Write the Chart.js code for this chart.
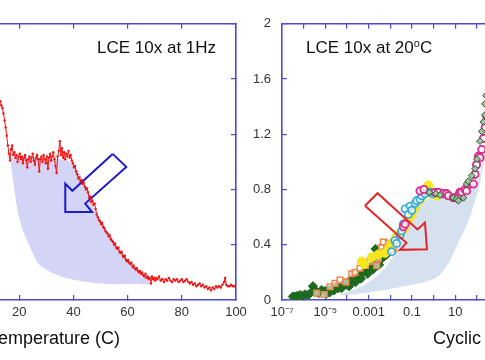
<!DOCTYPE html>
<html>
<head>
<meta charset="utf-8">
<script src="https://cdn.jsdelivr.net/npm/chart.js@4.4.1/dist/chart.umd.min.js"></script>
<style>
  html, body { margin: 0; padding: 0; background: #fff; }
  body { position: relative; width: 485px; height: 360px; overflow: hidden;
         font-family: "Liberation Sans", Arial, sans-serif; }
  canvas { position: absolute; top: 0; }
  #leftChart { left: -75px; }
  #rightChart { left: 242px; }
  .lbl { position: absolute; font-size: 17px; line-height: 17px; color: #111; white-space: nowrap; }
  .lbl.axis { font-size: 18px; line-height: 18px; }
  .lbl sup { font-size: 11px; vertical-align: 6px; line-height: 0; }
</style>
</head>
<body>
<canvas id="leftChart" width="333" height="360"></canvas>
<canvas id="rightChart" width="310" height="360"></canvas>
<div class="lbl" style="left:97px;top:39px">LCE 10x at 1Hz</div>
<div class="lbl" style="left:306px;top:39px">LCE 10x at 20<sup>o</sup>C</div>
<div class="lbl axis" style="left:-11px;top:329px">Temperature (C)</div>
<div class="lbl axis" style="left:433px;top:329px">Cyclic frequency (Hz)</div>
<script>
const AXIS_BLUE = '#4a4ad4';
const TICK_GREY = '#333';

// --- left panel: temperature sweep at 1 Hz ---
const tempC = [
  13.0, 13.4, 13.8, 14.2, 14.6, 15.0, 15.4, 15.8, 16.2, 16.6, 17.0, 17.4, 17.8,
  18.2, 18.6, 19.0, 19.4, 19.8, 20.2, 20.6, 21.0, 21.4, 21.8, 22.2, 22.6, 23.0, 23.4, 23.8, 24.2,
  24.6, 25.0, 25.4, 25.8, 26.2, 26.6, 27.0, 27.4, 27.8, 28.2, 28.6, 29.0, 29.4, 29.8, 30.2, 30.6,
  31.0, 31.4, 31.8, 32.2, 32.6, 33.0, 33.4, 33.8, 34.2, 34.6, 35.0, 35.4, 35.8, 36.2, 36.6, 37.0,
  37.4, 37.8, 38.2, 38.6, 39.0, 39.4, 39.8,
  40.2, 40.6, 41.0, 41.4, 41.8, 42.2, 42.6, 43.0, 43.4, 43.8, 44.2, 44.6, 45.0, 45.4, 45.8, 46.2,
  46.6, 47.0, 47.4, 47.8, 48.2, 48.6, 49.0, 49.4, 49.8, 50.2, 50.6, 51.0, 51.4, 51.8, 52.2, 52.6,
  53.0, 53.4, 53.8, 54.2, 54.6, 55.0, 55.4, 55.8, 56.2, 56.6, 57.0, 57.4, 57.8, 58.2, 58.6, 59.0,
  59.4, 59.8, 60.2, 60.6, 61.0, 61.4, 61.8, 62.2, 62.6, 63.0, 63.4, 63.8, 64.2, 64.6, 65.0, 65.4,
  65.8, 66.2, 66.6, 67.0, 67.4, 67.8, 68.2, 68.6, 69.0, 69.4,
  69.8, 70.2, 70.6, 71.0,
  71.6, 72.2, 72.8, 73.4, 74.0, 74.6, 75.2, 75.8, 76.4, 77.0, 77.6, 78.2, 78.8, 79.4, 80.0, 80.6,
  81.2, 81.8, 82.4, 83.0, 83.6, 84.2, 84.8, 85.4, 86.0, 86.6, 87.2, 87.8, 88.4, 89.0, 89.6, 90.2,
  90.8, 91.4, 92.0, 92.6, 93.2, 93.8, 94.4, 95.0, 95.6,
  96.0, 96.4, 97.0, 97.6, 98.2, 98.8, 99.4, 100.0,
];
const tempModulus = [
  1.44, 1.41, 1.39, 1.35, 1.30, 1.25, 1.19, 1.12, 1.06, 1.01, 1.09, 1.12, 1.05,
  1.07, 1.03, 1.05, 1.00, 1.04, 1.06, 1.02, 1.04, 0.99, 1.03, 1.05, 1.01, 0.96, 1.02, 1.04, 1.00,
  1.03, 1.06, 1.01, 0.98, 1.03, 1.05, 1.02, 0.93, 1.02, 1.04, 1.00, 1.05, 1.02, 0.99, 1.04, 0.95,
  1.03, 1.06, 1.01, 1.04, 1.07, 1.02, 0.97, 0.92, 1.04, 1.08, 1.15, 1.05, 1.10, 1.03, 1.07, 1.02,
  1.06, 1.04, 1.08, 1.03, 1.05, 1.01, 0.99,
  0.96, 0.97, 0.93, 0.91, 0.88, 0.89, 0.86, 0.87, 0.84, 0.85, 0.82, 0.80, 0.81, 0.78, 0.74, 0.75,
  0.71, 0.72, 0.69, 0.70, 0.66, 0.62, 0.60, 0.58, 0.57, 0.55, 0.56, 0.53, 0.52, 0.50, 0.49, 0.48,
  0.46, 0.47, 0.44, 0.43, 0.42, 0.40, 0.41, 0.38, 0.37, 0.38, 0.35, 0.34, 0.35, 0.32, 0.31, 0.32,
  0.29, 0.28, 0.29, 0.27, 0.26, 0.27, 0.24, 0.25, 0.23, 0.22, 0.23, 0.21, 0.20, 0.21, 0.19, 0.20,
  0.18, 0.17, 0.19, 0.16, 0.17, 0.15, 0.16, 0.12, 0.17, 0.15,
  0.16, 0.14, 0.16, 0.15,
  0.17, 0.14, 0.15, 0.13, 0.15, 0.14, 0.16, 0.14, 0.13, 0.15, 0.14, 0.15, 0.13, 0.14, 0.15, 0.13,
  0.14, 0.15, 0.13, 0.12, 0.13, 0.11, 0.12, 0.10, 0.11, 0.12, 0.10, 0.11, 0.09, 0.10, 0.08, 0.09,
  0.07, 0.09, 0.08, 0.10, 0.09, 0.10, 0.09, 0.11, 0.13,
  0.16, 0.11, 0.10, 0.10, 0.11, 0.10, 0.10, 0.10,
];
// outline of the shaded band (upper edge, then back along the lower edge)
const tempShadeX = [16.7, 20, 25, 30, 35, 38, 40.7, 44.4, 48.0, 53.6, 59.1, 64.6, 68.3,
                    61, 53.6, 45.1, 36.2, 30.3, 27.0, 24.1, 21.5, 19.6, 17.8, 17.0, 16.7];
const tempShadeY = [1.03, 1.03, 1.03, 1.02, 1.02, 1.01, 0.97, 0.83, 0.65, 0.47, 0.31, 0.19, 0.12,
                    0.115, 0.115, 0.13, 0.165, 0.216, 0.266, 0.38, 0.50, 0.626, 0.86, 0.97, 1.03];
const blueArrowX = [54.5, 59.5, 44.35, 46.9, 37.0, 37.0, 39.6, 54.5];
const blueArrowY = [1.058, 0.964, 0.698, 0.637, 0.637, 0.842, 0.791, 1.058];

// --- right panel: frequency sweep at 20 C (x kept as log10 of Hz) ---
const greenLogF = [-6.50, -6.40, -6.30, -6.17, -6.05, -5.94, -5.80, -5.71, -5.57, -5.51,
  -5.40, -5.30, -5.17, -5.02, -4.95, -4.86, -4.71, -4.60, -4.55, -4.48,
  -4.40, -4.32, -4.17, -4.09, -4.00, -3.94, -3.85, -3.78, -3.71, -3.62,
  -3.55, -3.47, -3.40, -3.32, -3.25, -3.17, -3.10, -3.02, -2.94, -2.86,
  -2.78, -2.71, -2.68, -2.63, -2.56, -2.48, -2.40, -2.33, -2.25, -2.17, -2.09,
  -4.80, -4.25, -3.90, -3.60, -3.35, -3.05, -2.80, -2.52];
const greenVal = [0.025, 0.024, 0.03, 0.036, 0.03, 0.041, 0.035, 0.048, 0.10, 0.06,
  0.06, 0.05, 0.072, 0.065, 0.045, 0.072, 0.077, 0.07, 0.091, 0.10,
  0.085, 0.10, 0.115, 0.12, 0.11, 0.13, 0.125, 0.144, 0.149, 0.15,
  0.16, 0.17, 0.18, 0.19, 0.20, 0.21, 0.215, 0.22, 0.24, 0.25,
  0.26, 0.29, 0.37, 0.26, 0.28, 0.29, 0.30, 0.31, 0.32, 0.33, 0.35,
  0.055, 0.085, 0.10, 0.13, 0.155, 0.19, 0.22, 0.255];
const orangeLogF = [-5.40, -5.05, -4.78, -4.55, -4.32, -4.05, -3.78, -3.63, -3.40, -3.15,
  -2.94, -2.63, -2.56, -2.40, -2.32, -2.25, -2.17, -2.09, -1.94, -1.86];
const orangeVal = [0.05, 0.04, 0.096, 0.12, 0.144, 0.13, 0.19, 0.20, 0.23, 0.25,
  0.28, 0.25, 0.30, 0.38, 0.42, 0.35, 0.38, 0.41, 0.38, 0.37];
const yellowLogF = [-3.32, -3.20, -2.86, -2.55, -2.25, -2.05, -1.94, -1.75, -1.55, -1.40, -1.32,
  -1.17, -1.01, -0.86, -0.71, -0.60, -0.48, -0.35, -0.25, -0.09, 0.14];
const yellowVal = [0.28, 0.26, 0.31, 0.33, 0.34, 0.38, 0.41, 0.45, 0.48, 0.51, 0.53,
  0.58, 0.62, 0.67, 0.71, 0.73, 0.755, 0.78, 0.83, 0.77, 0.755];
const cyanLogF = [-1.94, -1.79, -1.71, -1.55, -1.48, -1.40, -1.32, -1.17, -1.09, -1.01,
  -0.86, -0.78, -0.63, -0.55, -0.40, -0.17, -0.02];
const cyanVal = [0.35, 0.43, 0.41, 0.47, 0.50, 0.55, 0.66, 0.62, 0.68, 0.65,
  0.70, 0.72, 0.73, 0.755, 0.77, 0.78, 0.77];
const pinkLogF = [-1.40, -1.32, -0.63, -0.45, 0.06, 0.22, 0.45, 0.60, 0.68, 0.91, 1.14, 1.21, 1.29,
  1.45, 1.52, 1.68, 1.83, 1.91, 1.98, 2.06, 2.14, 2.22, 2.30, 2.38, 2.45];
const pinkVal = [0.53, 0.55, 0.79, 0.80, 0.78, 0.78, 0.77, 0.77, 0.755, 0.74, 0.755, 0.78, 0.78,
  0.80, 0.79, 0.84, 0.84, 0.91, 0.98, 1.04, 1.03, 1.09, 1.17, 1.25, 1.33];
const darkLogF = [-0.20, 0.10, 0.30, 0.90, 1.05, 1.14, 1.37, 1.52, 1.60, 1.76, 1.91, 2.00,
  2.14, 2.22, 2.30, 2.37, 2.37, 2.42];
const darkVal = [0.78, 0.77, 0.76, 0.74, 0.73, 0.72, 0.74, 0.84, 0.86, 0.90, 0.95, 1.02,
  1.15, 1.22, 1.29, 1.34, 1.42, 1.48];
const freqShadeLogF = [-4.35, -3.8, -3.3, -2.57, -2.1, -1.71, -1.25, -0.78, -0.17, 0.29, 0.85, 1.31,
  1.58, 2.04, 2.28, 2.55, 2.75,
  2.60, 2.37, 2.10, 1.80, 1.50, 1.15, 0.70, 0.20, -0.40, -1.00, -2.00, -3.00, -3.80, -4.35];
const freqShadeY = [0.035, 0.07, 0.10, 0.18, 0.26, 0.36, 0.53, 0.65, 0.74, 0.765, 0.74, 0.72,
  0.755, 0.86, 1.00, 1.25, 1.45,
  1.22, 1.03, 0.82, 0.66, 0.53, 0.42, 0.27, 0.17, 0.13, 0.11, 0.08, 0.055, 0.04, 0.035];
const redArrowLogF = [-3.17, -2.593, -0.747, -0.401, -0.309, -1.555, -1.255, -3.17];
const redArrowY = [0.683, 0.773, 0.511, 0.561, 0.367, 0.363, 0.414, 0.683];

const freqDecades = [-7, -6, -5, -4, -3, -2, -1, 0, 1, 2, 3, 4, 5];
const freqTickLabels = ['10⁻⁷', '', '10⁻⁵', '', '0.001', '', '0.1', '', '10', '', '1000', '', ''];

Chart.defaults.font.family = '"Liberation Sans", Arial, sans-serif';

const pts = (xs, ys) => xs.map((x, i) => ({ x, y: ys[i] }));
const logPts = (es, ys) => es.map((e, i) => ({ x: Math.pow(10, e), y: ys[i] }));
const fixSize = (prop, px) => (scale) => { scale[prop] = px; };

// frame with inward ticks on all four sides
const inwardGrid = { drawOnChartArea: false, tickLength: -5, color: AXIS_BLUE, lineWidth: 1.2 };
const axisBorder = { color: AXIS_BLUE, width: 1.6 };
const tickFont = { size: 13 };

function yAxes() {
  return {
    y: {
      type: 'linear', position: 'left', min: 0, max: 2,
      grid: inwardGrid, border: axisBorder,
      ticks: { stepSize: 0.4, font: tickFont, color: TICK_GREY, padding: 16,
               callback: (v) => String(Number(v.toFixed(1))) },
      afterFit: fixSize('width', 40),
    },
    yRight: {
      type: 'linear', position: 'right', min: 0, max: 2,
      grid: inwardGrid, border: axisBorder,
      ticks: { stepSize: 0.4, display: false },
      afterFit: fixSize('width', 0),
    },
  };
}

const baseOptions = {
  responsive: false,
  animation: false,
  plugins: { legend: { display: false }, tooltip: { enabled: false } },
};

new Chart(document.getElementById('leftChart'), {
  type: 'line',
  data: {
    datasets: [
      { data: pts(tempShadeX, tempShadeY), showLine: true, fill: 'shape', backgroundColor: '#d4d4f6',
        borderWidth: 0, pointRadius: 0, tension: 0.25, order: 3 },
      { data: pts(blueArrowX, blueArrowY), showLine: true, fill: false, borderColor: '#1d1dc9',
        borderWidth: 2, pointRadius: 0, tension: 0, order: 2 },
      { data: pts(tempC, tempModulus), showLine: true, fill: false, borderColor: '#f01414', borderWidth: 1,
        pointRadius: 1.2, pointBackgroundColor: '#f01414', pointBorderWidth: 0, tension: 0, order: 1 },
    ],
  },
  options: {
    ...baseOptions,
    // room for the half-width of the "100" label so the plot edge stays put
    layout: { padding: { top: 0, right: 22, bottom: 0, left: 0 } },
    scales: {
      x: {
        type: 'linear', position: 'bottom', min: 0, max: 100,
        grid: inwardGrid, border: axisBorder,
        ticks: { stepSize: 20, font: tickFont, color: TICK_GREY, padding: 10, maxRotation: 0 },
        afterFit: fixSize('height', 60),
      },
      xTop: {
        type: 'linear', position: 'top', min: 0, max: 100,
        grid: inwardGrid, border: axisBorder,
        ticks: { stepSize: 20, display: false },
        afterFit: fixSize('height', 22),
      },
      ...yAxes(),
    },
  },
});

const decadeTicks = (scale) => { scale.ticks = freqDecades.map(e => ({ value: Math.pow(10, e) })); };

new Chart(document.getElementById('rightChart'), {
  type: 'line',
  data: {
    datasets: [
      { data: logPts(freqShadeLogF, freqShadeY), showLine: true, fill: 'shape', backgroundColor: '#d6e1ef',
        borderWidth: 0, pointRadius: 0, tension: 0.25, order: 10 },
      { data: logPts(greenLogF, greenVal), showLine: false, pointStyle: 'rectRot', pointRadius: 4.6,
        pointBackgroundColor: '#1e6a1e', pointBorderColor: '#1e6a1e', pointBorderWidth: 1, order: 7 },
      { data: logPts(orangeLogF, orangeVal), showLine: false, pointStyle: 'rect', pointRadius: 4,
        pointBackgroundColor: 'rgba(255,255,255,0.6)', pointBorderColor: '#f0854a', pointBorderWidth: 1.5, order: 6 },
      { data: logPts(yellowLogF, yellowVal), showLine: false, pointStyle: 'circle', pointRadius: 4.4,
        pointBackgroundColor: '#f6e61c', pointBorderColor: '#f6e61c', pointBorderWidth: 1, order: 5 },
      { data: logPts(cyanLogF, cyanVal), showLine: false, pointStyle: 'circle', pointRadius: 3.6,
        pointBackgroundColor: 'rgba(255,255,255,0.7)', pointBorderColor: '#33a9e0', pointBorderWidth: 1.7, order: 4 },
      { data: logPts(pinkLogF, pinkVal), showLine: false, pointStyle: 'circle', pointRadius: 3.6,
        pointBackgroundColor: 'rgba(255,255,255,0.8)', pointBorderColor: '#e02a8c', pointBorderWidth: 1.9, order: 3 },
      { data: logPts(darkLogF, darkVal), showLine: false, pointStyle: 'rectRot', pointRadius: 3.4,
        pointBackgroundColor: '#9cc59c', pointBorderColor: '#2f4a2f', pointBorderWidth: 1, order: 2 },
      { data: logPts(redArrowLogF, redArrowY), showLine: true, fill: false, borderColor: '#e4262a',
        borderWidth: 2, pointRadius: 0, tension: 0, order: 1 },
    ],
  },
  options: {
    ...baseOptions,
    // tick padding of the last (blank) label still claims 10px on the right
    layout: { padding: { top: 0, right: 10, bottom: 0, left: 0 } },
    scales: {
      x: {
        type: 'logarithmic', position: 'bottom',
        min: Math.pow(10, freqDecades[0]), max: Math.pow(10, freqDecades[freqDecades.length - 1]),
        grid: inwardGrid, border: axisBorder,
        afterBuildTicks: decadeTicks,
        ticks: { autoSkip: false, maxRotation: 0, font: tickFont, color: TICK_GREY, padding: 10,
                 callback: (v, i) => freqTickLabels[i] },
        afterFit: fixSize('height', 60),
      },
      xTop: {
        type: 'logarithmic', position: 'top',
        min: Math.pow(10, freqDecades[0]), max: Math.pow(10, freqDecades[freqDecades.length - 1]),
        grid: inwardGrid, border: axisBorder,
        afterBuildTicks: decadeTicks,
        ticks: { display: false },
        afterFit: fixSize('height', 22),
      },
      ...yAxes(),
    },
  },
});
</script>
</body>
</html>
